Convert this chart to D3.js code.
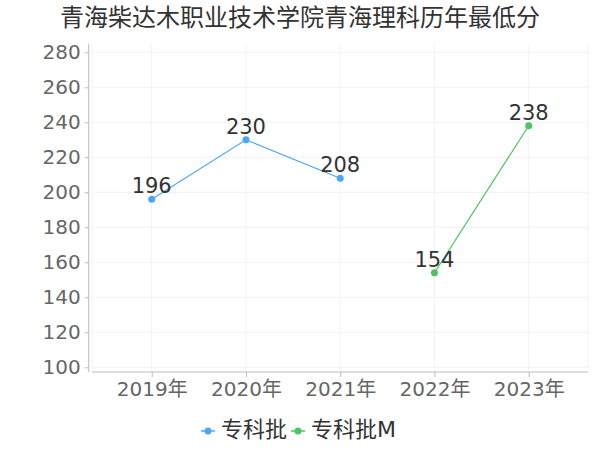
<!DOCTYPE html>
<meta charset="utf-8">
<html>
<head>
<script src="https://d3js.org/d3.v7.min.js"></script>
<style>
  body { margin: 0; background: #fff; }
  text { font-family: "DejaVu Sans", "Noto Sans CJK SC", sans-serif; }
</style>
</head>
<body>
<div id="chart"></div>
<script>
// data
var years = ["2019年", "2020年", "2021年", "2022年", "2023年"];
var seriesNames = ["专科批", "专科批M"];
var zhuanke = [196, 230, 208, null, null];
var zhuankeM = [null, null, null, 154, 238];
var yTicks = [100, 120, 140, 160, 180, 200, 220, 240, 260, 280];
var colors = ["#4ba6f7", "#4cc462"];

var W = 600, H = 450;
var svg = d3.select("#chart").append("svg").attr("width", W).attr("height", H);

var x = d3.scalePoint().domain(years).range([151.7, 528.7]);
var y = d3.scaleLinear().domain([100, 280]).range([367.3, 52.3]);

// title
svg.append("text")
  .attr("x", 300).attr("y", 19)
  .attr("text-anchor", "middle").attr("dominant-baseline", "middle")
  .style("font-size", "24px").style("fill", "#333")
  .text("青海柴达木职业技术学院青海理科历年最低分");

// grid
var grid = svg.append("g");
grid.selectAll("line.h").data(yTicks).enter().append("line")
  .attr("x1", 92).attr("x2", 588)
  .attr("y1", function (d) { return y(d); }).attr("y2", function (d) { return y(d); })
  .style("stroke", "#f2f2f2");
grid.selectAll("line.v").data([92].concat(years.map(function (d) { return x(d); }), [588])).enter().append("line")
  .attr("x1", function (d) { return d; }).attr("x2", function (d) { return d; })
  .attr("y1", 44).attr("y2", 370)
  .style("stroke", "#f2f2f2");

// y axis
var yAxis = svg.append("g").attr("transform", "translate(88.7,0)")
  .call(d3.axisLeft(y).tickValues(yTicks).tickSize(4).tickPadding(4));
yAxis.select(".domain").attr("d", "M0,44V372").style("stroke", "#bbb");
yAxis.selectAll(".tick line").style("stroke", "#bbb");
yAxis.selectAll(".tick text").style("font-size", "20px").style("fill", "#666")
  .style("font-family", "DejaVu Sans, sans-serif");

// x axis
var xAxis = svg.append("g").attr("transform", "translate(0,372)")
  .call(d3.axisBottom(x).tickSize(5).tickPadding(5));
xAxis.select(".domain").attr("d", "M92,0H588").style("stroke", "#bbb");
xAxis.selectAll(".tick line").style("stroke", "#bbb");
xAxis.selectAll(".tick text").style("font-size", "20px").style("fill", "#666")
  .style("font-family", "DejaVu Sans, Noto Sans CJK SC, sans-serif");

// series
[zhuanke, zhuankeM].forEach(function (vals, i) {
  var pts = years.map(function (d, j) { return { k: d, v: vals[j] }; })
    .filter(function (p) { return p.v != null; });
  var line = d3.line().x(function (p) { return x(p.k); }).y(function (p) { return y(p.v); });
  svg.append("path").datum(pts).attr("d", line)
    .style("fill", "none").style("stroke", colors[i]).style("stroke-width", 1.2);
  svg.selectAll(null).data(pts).enter().append("circle")
    .attr("cx", function (p) { return x(p.k); }).attr("cy", function (p) { return y(p.v); })
    .attr("r", 3.5).style("fill", colors[i]);
  svg.selectAll(null).data(pts).enter().append("text")
    .attr("x", function (p) { return x(p.k); }).attr("y", function (p) { return y(p.v) - 12; })
    .attr("text-anchor", "middle").attr("dominant-baseline", "middle")
    .style("font-size", "21px").style("fill", "#333")
    .text(function (p) { return p.v; });
});

// legend
var legend = svg.append("g");
var lx = [208, 298];
seriesNames.forEach(function (name, i) {
  var g = legend.append("g").attr("transform", "translate(" + lx[i] + ",431)");
  g.append("line").attr("x1", -7).attr("x2", 7).style("stroke", colors[i]).style("stroke-width", 1.5);
  g.append("circle").attr("r", 3.5).style("fill", colors[i]);
  g.append("text").attr("x", 13).attr("dominant-baseline", "middle")
    .style("font-size", "22px").style("fill", "#333").text(name);
});
</script>
</body>
</html>
